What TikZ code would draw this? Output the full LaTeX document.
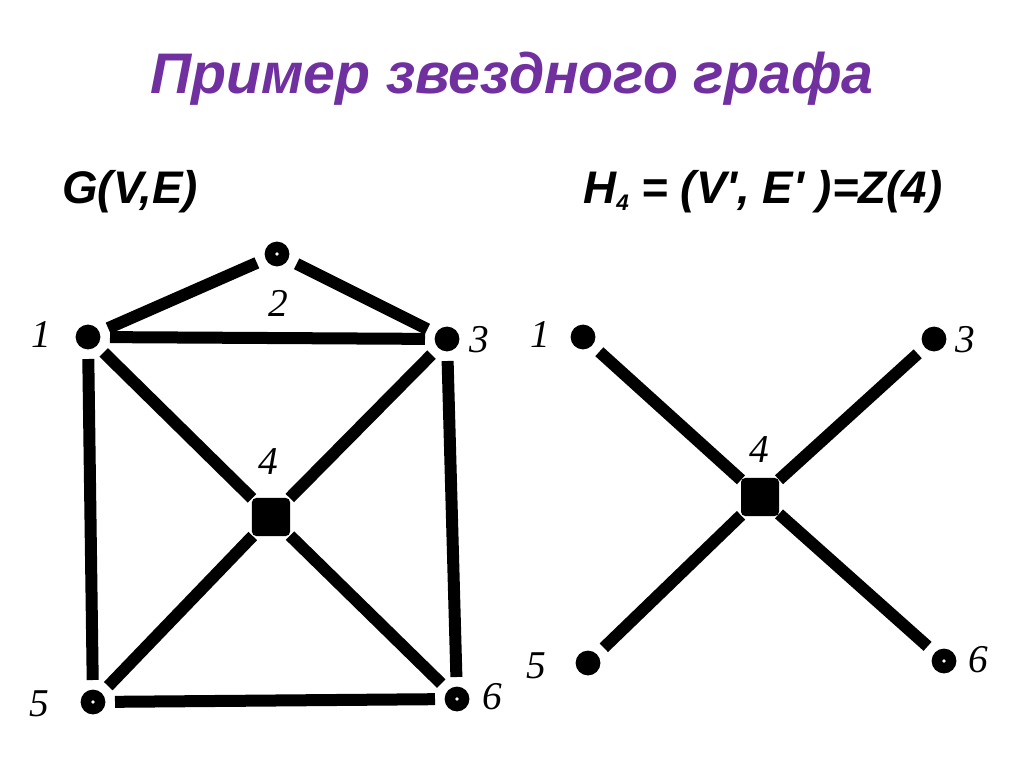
\documentclass[tikz,border=0pt]{standalone}
\usepackage{fontspec}
\setmainfont{Liberation Serif}
\newfontfamily\headfont{Liberation Sans}
\definecolor{titlepurple}{RGB}{112,48,160}
\tikzset{
  vertex/.style={circle, fill=black, inner sep=0pt, outer sep=0.24cm, minimum size=0.62cm},
  hollow/.style={vertex, path picture={\fill[white] (path picture bounding box.center) circle (1.3pt);}},
  hub/.style={rectangle, rounded corners=3pt, fill=black, inner sep=0pt, outer sep=0pt, minimum size=0.95cm},
  edge/.style={line width=0.3cm},
  num/.style={anchor=base, inner sep=0pt, font=\fontsize{28}{30}\selectfont\itshape},
  formula/.style={anchor=base west, inner sep=0pt, font=\headfont\fontsize{32.5}{34}\selectfont\bfseries\itshape}
}
\begin{document}
\begin{tikzpicture}[x=0.025cm, y=-0.025cm]
  \useasboundingbox (0,0) rectangle (1024,767);
  % title
  \node[anchor=base, inner sep=0pt, text=titlepurple, font=\headfont\fontsize{40.7}{46}\selectfont\bfseries\itshape] (title) at (512,94) {Пример звездного графа};
  \node[formula] (gname) at (62,204) {G(V,E)};
  \node[formula] (hname) at (583,204) {H\lower0.25ex\hbox{\fontsize{16}{16}\selectfont 4} = (V', E' )=Z(4)};

  % graph G
  \node[vertex] (g1) at (88,337) {};
  \node[hollow] (g2) at (277,254) {};
  \node[vertex] (g3) at (447,339) {};
  \node[hub] (g4) at (271,517) {};
  \node[hollow] (g5) at (93,702) {};
  \node[hollow] (g6) at (457,699) {};
  \node[num] (gl1) at (41,347) {1};
  \node[num] (gl2) at (278,316) {2};
  \node[num] (gl3) at (479,352) {3};
  \node[num] (gl4) at (268,474) {4};
  \node[num] (gl5) at (39,716) {5};
  \node[num] (gl6) at (492,709) {6};
  \foreach \a/\b in {g1/g2, g2/g3, g1/g3, g1/g5, g3/g6, g5/g6, g1/g4, g3/g4, g4/g5, g4/g6}
    \draw[edge] (\a) -- (\b);

  % star graph H
  \node[vertex] (h1) at (583,337) {};
  \node[vertex] (h3) at (934,339) {};
  \node[hub] (h4) at (760,497) {};
  \node[vertex] (h5) at (588,663) {};
  \node[hollow] (h6) at (944,661) {};
  \node[num] (hl1) at (540,347) {1};
  \node[num] (hl3) at (965,352) {3};
  \node[num] (hl4) at (759,462) {4};
  \node[num] (hl5) at (536,678) {5};
  \node[num] (hl6) at (978,672) {6};
  \foreach \a in {h1, h3, h5, h6}
    \draw[edge] (\a) -- (h4);
\end{tikzpicture}
\end{document}
